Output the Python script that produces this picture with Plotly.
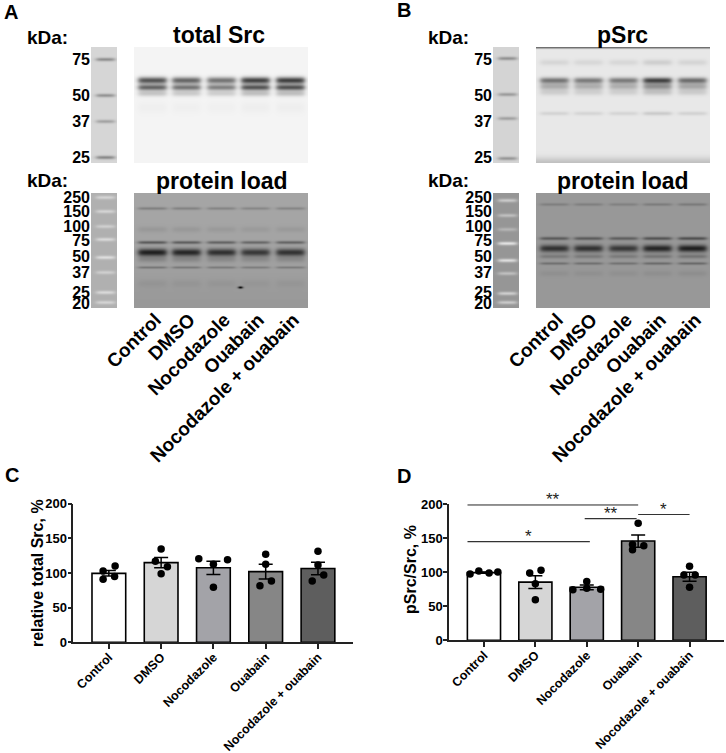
"""Src / pSrc western blots (A, B) and their quantification (C, D)."""

import numpy as np
import plotly.graph_objects as go

FIG_W, FIG_H = 726, 753
FONT = "Liberation Sans, Arial, sans-serif"

CATEGORIES = ["Control", "DMSO", "Nocodazole", "Ouabain", "Nocodazole + ouabain"]

# marker ladders (kDa)
LADDER_TOP = ["75", "50", "37", "25"]
LADDER_LOAD = ["250", "150", "100", "75", "50", "37", "25", "20"]

# relative band density per lane
SRC_BAND = [0.9, 0.8, 0.72, 1.0, 1.02]
PSRC_BAND = [0.8, 0.75, 0.75, 1.15, 0.85]
LOAD_A = [1.0, 0.95, 0.88, 0.82, 0.86]
LOAD_B = [0.85, 0.85, 0.8, 0.95, 1.0]

# C: relative total Src, %
TOTAL_SRC_MEAN = [99.5, 115, 107.5, 102, 106.5]
TOTAL_SRC_SEM = [4, 7.5, 9.5, 10.5, 9]
TOTAL_SRC_POINTS = [
    [103, 110, 91, 95],
    [134.5, 117, 109, 99],
    [120.5, 119, 112.5, 79.5],
    [127, 112.5, 81.5, 88.5],
    [131.5, 111.5, 88.5, 97],
]

# D: pSrc/Src, %
PSRC_MEAN = [99.5, 85.5, 78, 146, 93.5]
PSRC_SEM = [1, 9.5, 3.5, 9, 6.5]
PSRC_POINTS = [
    [97.5, 102, 99, 100.5],
    [99, 103, 83, 59.5],
    [74.5, 86.5, 76.5, 75],
    [172, 141, 139, 133],
    [109, 96, 96, 78],
]
SIG_PAIRS = [(0, 3, "**"), (0, 2, "*"), (2, 3, "**"), (3, 4, "*")]

# ---- layout constants (pixels) ----
LANES = [18, 52, 87, 121, 156]           # lane centres inside the blot
C_JITTER = [[-0.11, 0.12, -0.11, 0.11], [0, -0.11, 0.12, 0], [-0.28, 0.27, 0, 0],
            [0, 0, -0.11, 0.11], [0, 0, -0.11, 0.11]]
D_JITTER = [[-0.27, -0.1, 0.1, 0.27], [-0.11, 0.11, 0, 0], [-0.27, 0, 0, 0.27],
            [0, -0.11, 0.11, -0.11], [0, -0.11, 0.11, 0]]
SIG_Y = [199.3, 145, 179, 185]
SIG_X = [(-0.32, 3.0), (-0.32, 2.06), (1.96, 2.97), (3.0, 4.0)]
BAR_COLORS = ["#ffffff", "#d6d6d6", "#a3a3a8", "#868686", "#5e5e5e"]


def px(x):
    return x / FIG_W


def py(y):
    return 1 - y / FIG_H


def blot(h, bg, dens, bands, mbg, mbands, edges=(), spots=()):
    yy = np.arange(h)[:, None]
    xx = np.arange(174)[None, :]
    img = np.full((h, 174), float(bg))
    for lc, d in zip(LANES, dens):
        lw = 1 / (1 + np.exp((np.abs(xx - lc) - 14) / 1.5))
        for yb, w, dark in bands:
            img -= d * dark * lw * np.exp(-((yy - yb) / w) ** 2)
    for yb, w, dark in edges:
        img -= dark * np.exp(-((yy - yb) / w) ** 2) * np.ones_like(xx)
    for sx, sy, dark in spots:
        img -= dark * np.exp(-((xx - sx) / 2.5) ** 2 - ((yy - sy) / 1.2) ** 2)
    mx = np.arange(26)[None, :]
    mw = 1 / (1 + np.exp((np.abs(mx - 14) - 9) / 1.5))
    marker = np.full((h, 26), float(mbg))
    for yb, amp in mbands:
        marker += amp * mw * np.exp(-((yy - yb) / 1.8) ** 2)
    gap = np.full((h, 17), 255.0)
    return np.clip(np.hstack([marker, gap, img]), 0, 255)


top_a = blot(116, 244, SRC_BAND, [(33, 3.4, 175), (40, 3.0, 155), (46, 3, 50), (60, 6, 6)],
             214, [(12, -70), (48, -65), (74, -50), (110, -75)])
load_a = blot(115, 165, LOAD_A, [(15, 1.5, 35), (36, 3, 12), (49, 1.6, 70), (59, 3.8, 130),
                                 (66, 3, 25), (74, 1.3, 40), (90, 4, 8)],
              176, [(4, 35), (18, 35), (33, 30), (46, 40), (64, 45), (79, 30), (99, 40), (109, 35)],
              edges=[(115, 45, 12)], spots=[(106, 94, 140)])
top_b = blot(116, 232, PSRC_BAND, [(15, 3, 22), (33, 3, 140), (39, 3.5, 75), (45, 3, 30),
                                   (66, 2, 25)],
             212, [(11, -65), (47, -55), (71, -50), (111, -60)],
             edges=[(0, 1.2, 120), (116, 6, 40)])
load_b = blot(115, 152, LOAD_B, [(11, 1.5, 28), (45, 1.7, 70), (55, 3.6, 120), (63, 2, 35),
                                 (70, 1.4, 45), (80, 3, 10)],
              150, [(7, 50), (22, 40), (36, 30), (50, 75), (67, 70), (80, 40), (100, 55), (109, 50)])

LADDER_TOP_Y = [12, 48, 74, 110]
LADDER_LOAD_Y = [4, 18, 33, 47, 63, 79, 99, 110]

fig = go.Figure()
heat = [
    (top_a, 91, 47, LADDER_TOP_Y, LADDER_TOP, False),
    (load_a, 91, 193, LADDER_LOAD_Y, LADDER_LOAD, True),
    (top_b, 493, 47, LADDER_TOP_Y, LADDER_TOP, False),
    (load_b, 493, 193, LADDER_LOAD_Y, LADDER_LOAD, True),
]
bold = dict(family=FONT, color="black", weight="bold")
for i, (img, x0, y0, ty, tt, labels) in enumerate(heat, start=1):
    h, w = img.shape
    fig.add_trace(go.Heatmap(
        z=img, colorscale=[[0, "#000000"], [1, "#ffffff"]], zmin=0, zmax=255,
        showscale=False, hoverinfo="skip", xaxis=f"x{i}", yaxis=f"y{i}",
    ))
    fig.layout[f"xaxis{i}"] = dict(
        domain=[px(x0), px(x0 + w)], range=[-0.5, w - 0.5], anchor=f"y{i}",
        showgrid=False, zeroline=False, ticks="", showticklabels=labels,
        tickvals=[43 + c for c in LANES], ticktext=CATEGORIES, tickangle=-45,
        ticklabelstandoff=-4, ticklabelshift=3, tickfont=dict(size=19, **bold),
    )
    fig.layout[f"yaxis{i}"] = dict(
        domain=[py(y0 + h), py(y0)], range=[h - 0.5, -0.5], anchor=f"x{i}",
        showgrid=False, zeroline=False, ticks="", tickvals=ty, ticktext=tt,
        tickfont=dict(size=16, **bold),
    )

# bar charts
for k, (mean, sem, pts, jit, xa, ya, xdom, ydom) in enumerate([
    (TOTAL_SRC_MEAN, TOTAL_SRC_SEM, TOTAL_SRC_POINTS, C_JITTER, "x5", "y5",
     [px(73.3), px(353)], [py(642.3), py(503.7)]),
    (PSRC_MEAN, PSRC_SEM, PSRC_POINTS, D_JITTER, "x6", "y6",
     [px(449), px(724)], [py(640.3), py(504.3)]),
]):
    fig.add_trace(go.Bar(
        x=list(range(5)), y=mean, width=0.645, xaxis=xa, yaxis=ya,
        marker=dict(color=BAR_COLORS, line=dict(color="black", width=1.6)),
        error_y=dict(type="data", array=sem, color="black", thickness=1.5, width=7),
        hoverinfo="skip",
    ))
    xs, ys = [], []
    for i, (vals, offs) in enumerate(zip(pts, jit)):
        xs += [i + o for o in offs]
        ys += vals
    fig.add_trace(go.Scatter(
        x=xs, y=ys, mode="markers", xaxis=xa, yaxis=ya, cliponaxis=False,
        marker=dict(color="black", size=7.5), hoverinfo="skip",
    ))
    n = xa[1:]
    fig.layout[f"xaxis{n}"] = dict(
        domain=xdom, range=[-0.68, 4.67], anchor=ya, showgrid=False, zeroline=False,
        showline=True, linecolor="#222", linewidth=1.5, ticks="outside", ticklen=5,
        tickwidth=1.5, tickcolor="#222", tickvals=list(range(5)), ticktext=CATEGORIES,
        tickangle=-45, ticklabelstandoff=-4, tickfont=dict(size=12.5, **bold),
    )
    fig.layout[f"yaxis{n}"] = dict(
        domain=ydom, range=[0, 200], anchor=xa, showgrid=False, zeroline=False,
        showline=True, linecolor="#222", linewidth=1.5, ticks="outside", ticklen=4,
        tickwidth=1.5, tickcolor="#222", tickvals=[0, 50, 100, 150, 200],
        ticklabelstandoff=-2, tickfont=dict(size=13, **bold),
    )

# significance brackets on D
for (a, b, star), yv, (x0, x1) in zip(SIG_PAIRS, SIG_Y, SIG_X):
    fig.add_trace(go.Scatter(
        x=[x0, x1], y=[yv, yv], mode="lines", xaxis="x6", yaxis="y6",
        line=dict(color="#333", width=1.2), hoverinfo="skip",
    ))
    fig.add_annotation(
        x=(x0 + x1) / 2, y=yv, xref="x6", yref="y6", text=star, showarrow=False,
        yanchor="bottom", yshift=-6, font=dict(size=17, family=FONT, color="#222"),
    )

annots = [
    ("A", 2, 12, 20, "left"), ("B", 395, 10, 20, "left"),
    ("C", 3, 475, 20, "left"), ("D", 395, 476, 20, "left"),
    ("kDa:", 25, 38, 19, "left"), ("kDa:", 25, 180, 19, "left"),
    ("kDa:", 426, 38, 19, "left"), ("kDa:", 426, 180, 19, "left"),
    ("total Src", 219, 35, 23, "center"), ("protein load", 222, 181, 23, "center"),
    ("pSrc", 622, 35, 23, "center"), ("protein load", 623, 181, 23, "center"),
]
for text, x, y, size, anchor in annots:
    fig.add_annotation(
        x=px(x), y=py(y), xref="paper", yref="paper", text=text, showarrow=False,
        xanchor=anchor, yanchor="middle", font=dict(size=size, **bold),
    )

for text, x, y in [("relative total Src, %", 37, 573), ("pSrc/Src, %", 410, 570)]:
    fig.add_annotation(
        x=px(x), y=py(y), xref="paper", yref="paper", text=text, showarrow=False,
        textangle=-90, xanchor="center", yanchor="middle", font=dict(size=16, **bold),
    )

fig.update_layout(
    width=FIG_W, height=FIG_H, template="none", showlegend=False,
    margin=dict(l=0, r=0, t=0, b=0), paper_bgcolor="white", plot_bgcolor="white",
    font=dict(family=FONT, color="black"),
)

fig.write_html(
    "out.html",
    config={"displayModeBar": False},
    post_script="document.body.style.margin = '0';",
)
